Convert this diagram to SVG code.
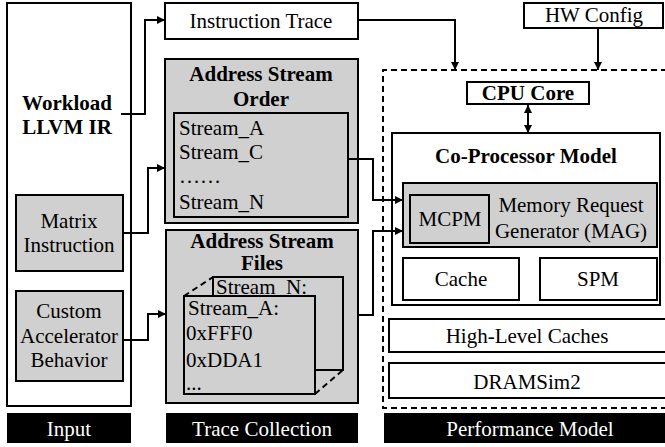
<svg xmlns="http://www.w3.org/2000/svg" width="665" height="447" viewBox="0 0 665 447">
<defs>
<marker id="ah" viewBox="0 0 10 10" refX="10" refY="5" markerWidth="8" markerHeight="8" markerUnits="userSpaceOnUse" orient="auto-start-reverse">
<path d="M0,0 L10,5 L0,10 Z" fill="#000"/>
</marker>
</defs>
<style>
text{font-size:21px;fill:#000}
.b{font-weight:bold}
.c{text-anchor:middle}
.w{fill:#fff}
.box{fill:#fff;stroke:#000;stroke-width:2}
.g{fill:#d0d0d0;stroke:#000;stroke-width:2}
.lab{fill:#000}
.con{fill:none;stroke:#000;stroke-width:2}
.dash{fill:none;stroke:#000;stroke-width:2;stroke-dasharray:6,4}
</style>
<rect width="665" height="447" fill="#fff"/>
<g font-family="Liberation Serif, DejaVu Serif, serif">

<g id="input">
<rect class="box" x="7" y="3" width="124" height="403"/>
<text class="b c" x="67" y="110">Workload</text>
<text class="b c" x="67" y="134">LLVM IR</text>
</g>
<g id="matrix">
<rect class="g" x="16" y="195" width="107" height="76"/>
<text class="c" x="69" y="228">Matrix</text>
<text class="c" x="69" y="252">Instruction</text>
</g>
<g id="custom">
<rect class="g" x="16" y="291" width="107" height="90"/>
<text class="c" x="69" y="318">Custom</text>
<text class="c" x="69" y="343">Accelerator</text>
<text class="c" x="69" y="367">Behavior</text>
</g>
<g id="label-input">
<rect class="lab" x="7" y="413" width="124" height="30"/>
<text class="c w" x="69" y="436">Input</text>
</g>

<g id="instr-trace">
<rect class="box" x="165" y="3" width="193" height="36"/>
<text class="c" x="261" y="28">Instruction Trace</text>
</g>
<g id="aso">
<rect class="g" x="165" y="59" width="193" height="164"/>
<text class="b c" x="261" y="81">Address Stream</text>
<text class="b c" x="261" y="106">Order</text>
<rect class="g" x="174" y="113" width="174" height="104"/>
<text x="179" y="135">Stream_A</text>
<text x="179" y="159">Stream_C</text>
<text x="179" y="183">……</text>
<text x="179" y="209">Stream_N</text>
</g>
<g id="asf">
<rect class="g" x="166" y="230" width="192" height="173"/>
<text class="b c" x="262" y="248">Address Stream</text>
<text class="b c" x="262" y="270">Files</text>
<rect class="g" x="213" y="277" width="130" height="93"/>
<text x="216" y="294">Stream_N:</text>
<line class="dash" x1="184" y1="296" x2="213" y2="277" stroke-dasharray="4,3"/>
<line class="dash" x1="315" y1="394" x2="343" y2="370" stroke-dasharray="4,3"/>
<rect class="g" x="184" y="296" width="131" height="98"/>
<text x="188" y="315">Stream_A:</text>
<text x="186" y="340">0xFFF0</text>
<text x="186" y="367">0xDDA1</text>
<text x="186" y="390">...</text>
</g>
<g id="label-trace">
<rect class="lab" x="166" y="413" width="192" height="30"/>
<text class="c w" x="262" y="436">Trace Collection</text>
</g>

<g id="hwconfig">
<rect class="box" x="524" y="3" width="139" height="25"/>
<text class="c" x="594" y="22">HW Config</text>
</g>
<g id="perf">
<path class="dash" d="M667,70 H383 V408 H667"/>
</g>
<g id="cpu">
<rect class="box" x="467" y="82" width="122" height="22"/>
<text class="b c" x="528" y="100">CPU Core</text>
</g>
<g id="coproc">
<rect class="box" x="392" y="133" width="268" height="172"/>
<text class="b c" x="526" y="163">Co-Processor Model</text>
</g>
<g id="mag">
<rect class="g" x="403" y="183" width="254" height="64"/>
<text class="c" x="571" y="212">Memory Request</text>
<text class="c" x="571" y="238">Generator (MAG)</text>
</g>
<g id="mcpm">
<rect class="g" x="410" y="195" width="79" height="48"/>
<text class="c" x="450" y="226">MCPM</text>
</g>
<g id="cache">
<rect class="box" x="403" y="258" width="116" height="42"/>
<text class="c" x="461" y="286">Cache</text>
</g>
<g id="spm">
<rect class="box" x="540" y="258" width="117" height="42"/>
<text class="c" x="598" y="286">SPM</text>
</g>
<g id="hlc">
<rect class="box" x="389" y="319" width="280" height="33"/>
<text class="c" x="527" y="343">High-Level Caches</text>
</g>
<g id="dram">
<rect class="box" x="389" y="363" width="280" height="35"/>
<text class="c" x="527" y="389">DRAMSim2</text>
</g>
<g id="label-perf">
<rect class="lab" x="384" y="413" width="285" height="30"/>
<text class="c w" x="530" y="436">Performance Model</text>
</g>
</g>

<g id="connectors">
<path class="con" d="M121,114 H145 V20 H165" marker-end="url(#ah)"/>
<path class="con" d="M123,233 H148 V168 H165" marker-end="url(#ah)"/>
<path class="con" d="M123,340 H148 V314 H166" marker-end="url(#ah)"/>
<path class="con" d="M358,20 H455 V70" marker-end="url(#ah)"/>
<path class="con" d="M598,28 V70" marker-end="url(#ah)"/>
<path class="con" d="M528,105 V133" marker-start="url(#ah)" marker-end="url(#ah)"/>
<path class="con" d="M348,159 H373 V200 H403" marker-end="url(#ah)"/>
<path class="con" d="M358,315 H373 V231 H403" marker-end="url(#ah)"/>
</g>
</svg>
